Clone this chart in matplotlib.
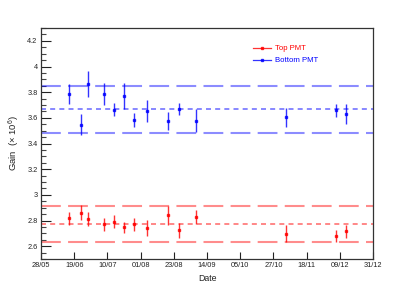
import matplotlib
matplotlib.use("Agg")
import matplotlib.pyplot as plt
from matplotlib.lines import Line2D
from matplotlib.ticker import MultipleLocator, FixedLocator, NullLocator

plt.rcParams['font.family'] = ['Liberation Sans', 'DejaVu Sans']
plt.rcParams['mathtext.fontset'] = 'custom'
plt.rcParams['mathtext.rm'] = 'Liberation Sans'

# days since 28/05
days = [18, 26, 31, 41, 48, 54, 61, 69.5, 83, 90, 101, 160, 192.5, 199.5]

top_gain = [2.816, 2.860, 2.813, 2.769, 2.790, 2.747, 2.769, 2.743, 2.839, 2.724, 2.826, 2.698, 2.678, 2.716]
top_err = [0.050, 0.058, 0.052, 0.052, 0.050, 0.045, 0.052, 0.064, 0.075, 0.060, 0.055, 0.064, 0.047, 0.052]

bottom_gain = [3.787, 3.547, 3.866, 3.787, 3.662, 3.769, 3.580, 3.651, 3.573, 3.670, 3.578, 3.604, 3.659, 3.630]
bottom_err = [0.080, 0.080, 0.100, 0.085, 0.050, 0.100, 0.055, 0.085, 0.070, 0.045, 0.090, 0.075, 0.050, 0.075]

top_mean = 2.772
bottom_mean = 3.665
band = 0.05  # +-5% band

date_ticks = [0, 21.7, 43.4, 65.1, 86.8, 108.5, 130.2, 151.9, 173.6, 195.3, 217]
date_labels = ['28/05', '19/06', '10/07', '01/08', '23/08', '14/09',
               '05/10', '27/10', '18/11', '09/12', '31/12']

fig = plt.figure(figsize=(4.15, 2.89), dpi=100)
ax = fig.add_axes([0.0988, 0.1038, 0.8, 0.7993])

for mean, col in [(top_mean, 'red'), (bottom_mean, 'blue')]:
    ax.axhline(mean, color=col, lw=1.2, alpha=0.55, dashes=(3, 2.5))
    for f in (1 + band, 1 - band):
        ax.axhline(mean * f, color=col, lw=1.5, alpha=0.45, dashes=(9.5, 3.5))

ax.errorbar(days, top_gain, yerr=top_err, fmt='s', color='red', ms=1.6,
            elinewidth=1.0, capsize=0, alpha=0.8)
ax.errorbar(days, bottom_gain, yerr=bottom_err, fmt='s', color='blue', ms=1.6,
            elinewidth=1.0, capsize=0, alpha=0.8)

ax.set_xlim(0, 217)
ax.set_ylim(2.5, 4.3)
ax.xaxis.set_major_locator(FixedLocator(date_ticks))
ax.set_xticklabels(date_labels)
ax.xaxis.set_minor_locator(NullLocator())
ax.yaxis.set_minor_locator(MultipleLocator(0.05))
ax.set_yticks([2.6, 2.8, 3.0, 3.2, 3.4, 3.6, 3.8, 4.0, 4.2])
ax.set_yticklabels(['2.6', '2.8', '3', '3.2', '3.4', '3.6', '3.8', '4', '4.2'])

ax.tick_params(axis='y', which='major', direction='in', length=7.2, width=0.8,
               labelsize=5.3, pad=2.5, colors='#222222')
ax.tick_params(axis='y', which='minor', direction='in', length=3.6, width=0.8, color='#444444')
ax.tick_params(axis='x', which='major', direction='in', length=5, width=0.8,
               labelsize=5.3, pad=2.5, colors='#222222')
for s in ax.spines.values():
    s.set_color('#333333')
    s.set_linewidth(0.9)

ax.set_xlabel('Date', fontsize=6.3, labelpad=3, color='#222222')
ax.set_ylabel('Gain  (× 10$^{6}$)', fontsize=6.8, labelpad=3.5, color='#222222')

handles = [Line2D([], [], color='red', lw=0.9, marker='s', ms=1.6, alpha=0.8),
           Line2D([], [], color='blue', lw=0.9, marker='s', ms=1.6, alpha=0.8)]
fig.legend(handles, ['Top PMT', 'Bottom PMT'], loc='upper left',
           bbox_to_anchor=(0.609, 0.845), bbox_transform=fig.transFigure,
           frameon=False, fontsize=5.6, handlelength=2.3, handletextpad=0.55,
           labelspacing=0.6, borderpad=0, borderaxespad=0, labelcolor=['red', 'blue'])

fig.savefig('out.png', dpi=100)
